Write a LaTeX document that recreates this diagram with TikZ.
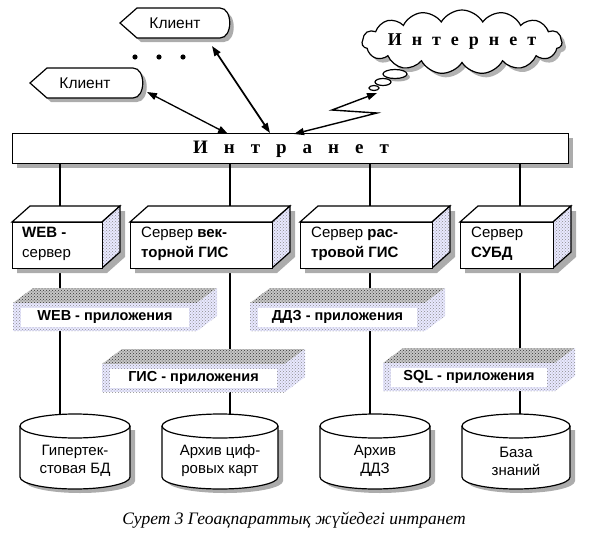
\documentclass[tikz,border=0pt]{standalone}
\usepackage{fontspec}
\setmainfont{Liberation Serif}
\newfontfamily\arf{Liberation Sans}
\usetikzlibrary{shapes.symbols,patterns,arrows.meta}
\tikzset{
 shadowc/.style={fill=gray!65},
 wire/.style={line width=2.4pt},
 outl/.style={draw=black, line width=1.2pt},
 dotface/.style={preaction={fill=blue!9}, pattern=crosshatch dots, pattern color=gray!90},
 darkface/.style={preaction={fill=gray!45}, pattern=crosshatch dots, pattern color=black!80},
 lbl/.style={font=\arf\fontsize{15}{20}\selectfont, inner sep=0pt},
 cyllbl/.style={font=\arf\fontsize{15}{18}\selectfont, inner sep=0pt, align=center},
 applbl/.style={font=\arf\bfseries\fontsize{14.5}{16}\selectfont, inner sep=0pt},
 biglet/.style={font=\bfseries\fontsize{19}{22}\selectfont, inner sep=0pt},
 dblarrow/.style={{Triangle[length=10pt,width=7pt]}-{Triangle[length=10pt,width=7pt]}},
}
\newcommand{\srvbox}[3]{%
  \fill[shadowc] (#1+5,227) -- (#1+23,211) -- (#2+23,211) -- (#2+23,257) -- (#2+5,273) -- (#1+5,273) -- cycle;
  \filldraw[fill=white, outl] (#1,222) -- (#1+18,206) -- (#2+18,206) -- (#2,222) -- cycle;
  \path[dotface] (#2,222) -- (#2+18,206) -- (#2+18,252) -- (#2,268) -- cycle;
  \draw[outl] (#2,222) -- (#2+18,206) -- (#2+18,252) -- (#2,268);
  \node[outl, fill=white, inner sep=0pt, minimum width={(#2-(#1))*1pt}, minimum height=46pt, anchor=north west] (#3) at (#1,222) {};
}
\newcommand{\appbox}[5]{%
  \path[darkface] (#1,#3) -- (#1+20,#3-15) -- (#2+20,#3-15) -- (#2,#3) -- cycle;
  \path[dotface] (#2,#3) -- (#2+20,#3-15) -- (#2+20,#3+13) -- (#2,#3+28) -- cycle;
  \path[dotface] (#1,#3) rectangle (#2,#3+28);
  \node[fill=white, applbl, minimum width={(#2-(#1)-16)*1pt}, minimum height=19pt] (#4) at ({(#1+#2)/2},#3+14) {#5};
}
\newcommand{\cylbox}[4]{%
  \pgfmathsetmacro\cyX{(#1+#2)/2}\pgfmathsetmacro\cyR{(#2-(#1))/2}
  \fill[shadowc] (#1+5,430) -- (#1+5,481) arc[start angle=180,end angle=0,x radius=\cyR,y radius=12] -- (#2+5,430) -- cycle;
  \filldraw[fill=white, outl] (#1,426) -- (#1,477) arc[start angle=180,end angle=0,x radius=\cyR,y radius=12] -- (#2,426);
  \filldraw[fill=white, outl] (\cyX,426) ellipse[x radius=\cyR, y radius=12];
  \node[cyllbl] (#3) at (\cyX,461) {#4};
}
\begin{document}
\begin{tikzpicture}[x=1pt,y=-1pt]
\useasboundingbox (0,0) rectangle (589,541);
% clients
\fill[shadowc] (124,27) -- (141,12) -- (224,12) .. controls (237,12) and (237,42) .. (224,42) -- (141,42) -- cycle;
\filldraw[fill=white, outl] (120,23) -- (137,8) -- (220,8) .. controls (233,8) and (233,38) .. (220,38) -- (137,38) -- cycle;
\node[lbl, font=\arf\fontsize{15.5}{18}\selectfont] (cl1) at (175,23) {Клиент};
\fill[shadowc] (34,87) -- (51,72) -- (137,72) .. controls (150,72) and (150,102) .. (137,102) -- (51,102) -- cycle;
\filldraw[fill=white, outl] (30,83) -- (47,68) -- (133,68) .. controls (146,68) and (146,98) .. (133,98) -- (47,98) -- cycle;
\node[lbl, font=\arf\fontsize{15.5}{18}\selectfont] (cl2) at (85,83) {Клиент};
% dots
\fill (135,57) circle[radius=2.6] (159,57) circle[radius=2.6] (183,57) circle[radius=2.6];
% cloud
\node[cloud, cloud puffs=15, cloud puff arc=120, cloud ignores aspect, minimum width=200pt, minimum height=64pt, fill=gray!60] at (466,46) {};
\node[cloud, cloud puffs=15, cloud puff arc=120, cloud ignores aspect, minimum width=200pt, minimum height=64pt, outl, fill=white] (inet) at (462,42) {};
\node[font=\bfseries\fontsize{18}{20}\selectfont, inner sep=0pt] (inettxt) at (inet.center) {И\hspace{10pt}н\hspace{10pt}т\hspace{10pt}е\hspace{10pt}р\hspace{10pt}н\hspace{10pt}е\hspace{10pt}т};
\fill[shadowc] (398,77) ellipse[x radius=12, y radius=4.5];
\filldraw[fill=white, outl] (395,74) ellipse[x radius=12, y radius=4.5];
\filldraw[fill=white, outl] (383,82) ellipse[x radius=8, y radius=3.5];
\filldraw[fill=white, outl] (374,88) ellipse[x radius=5, y radius=2.5];
% intranet bar
\fill[shadowc] (17,138) rectangle (573,168);
% vertical wires
\coordinate (k1) at (60,426);
\coordinate (k2) at (230,426);
\coordinate (k3) at (370,426);
\coordinate (k4) at (520,426);
\draw[wire] (60,150) -- (k1);
\draw[wire] (230,150) -- (k2);
\draw[wire] (370,150) -- (k3);
\draw[wire] (520,150) -- (k4);
\node[outl, fill=white, minimum width=556pt, minimum height=30pt, anchor=north west, inner sep=0pt] (intranet) at (12,133) {};
\node[biglet] (intxt) at (291,149) {И\hspace{16pt}н\hspace{16pt}т\hspace{16pt}р\hspace{16pt}а\hspace{16pt}н\hspace{16pt}е\hspace{16pt}т};
% arrows
\coordinate (cl2a) at (147,92);
\coordinate (ia1) at (228,134);
\coordinate (cl1a) at (212,46);
\coordinate (ia2) at (270,133);
\draw[line width=1.3pt, dblarrow] (cl2a) -- (ia1);
\draw[line width=1.8pt, dblarrow] (cl1a) -- (ia2);
\coordinate (lzA) at (294,134);
\coordinate (lz1) at (377,113);
\coordinate (lz2) at (332,110);
\coordinate (lzB) at (377,93);
\draw[line width=1.4pt, dblarrow] (lzA) -- (lz1) -- (lz2) -- (lzB);
% servers
\srvbox{12}{102}{s1}
\srvbox{130}{272}{s2}
\srvbox{300}{432}{s3}
\srvbox{460}{553}{s4}
\node[lbl, anchor=west, align=left] at (22,244) {\textbf{WEB -}\\сервер};
\node[lbl, anchor=west, align=left] at (141,244) {Сервер \textbf{век-}\\\textbf{торной ГИС}};
\node[lbl, anchor=west, align=left] at (311,244) {Сервер \textbf{рас-}\\\textbf{тровой ГИС}};
\node[lbl, anchor=west, align=left] at (471,244) {Сервер\\\textbf{СУБД}};
% applications
\appbox{13}{197}{303}{a1}{WEB - приложения}
\appbox{250}{425}{303}{a3}{ДДЗ - приложения}
\appbox{102}{285}{364}{a2}{ГИС - приложения}
\appbox{383}{555}{363}{a4}{SQL - приложения}
% databases
\cylbox{20}{130}{d1}{Гипертек-\\стовая БД}
\cylbox{162}{278}{d2}{Архив циф-\\ровых карт}
\cylbox{320}{430}{d3}{Архив\\ДДЗ}
\cylbox{462}{570}{d4}{База\\знаний}
% caption
\node[font=\itshape\fontsize{17.5}{20}\selectfont, inner sep=0pt] (cap) at (294,520) {Сурет 3 Геоақпараттық жүйедегі интранет};
\end{tikzpicture}
\end{document}
